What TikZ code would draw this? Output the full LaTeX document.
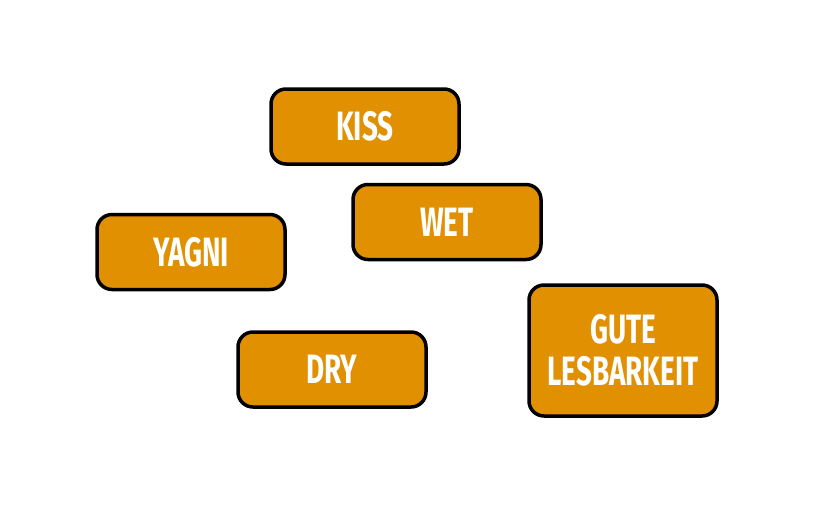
\documentclass[tikz,border=0pt]{standalone}
\usepackage{fontspec}
\newfontfamily\boxfont{Fira Sans}[FakeStretch=0.68]
\definecolor{boxorange}{RGB}{224,144,0}
\begin{document}
\begin{tikzpicture}[x=1pt,y=-1pt,
  tag/.style={draw=black, line width=3.5pt, fill=boxorange, rounded corners=15pt,
    minimum width=188pt, minimum height=75pt, inner sep=0pt, align=center,
    text=white, font=\boxfont\bfseries\fontsize{41}{42}\selectfont}]
\useasboundingbox (0,0) rectangle (827,531);
\node[tag] (kiss) at (365,126.5) {KISS};
\node[tag] (wet) at (447,222) {WET};
\node[tag] (yagni) at (191,252) {YAGNI};
\node[tag] (dry) at (332,369.5) {DRY};
\node[tag, minimum height=131pt] (gute) at (623,350.5) {GUTE\\LESBARKEIT};
\end{tikzpicture}
\end{document}
